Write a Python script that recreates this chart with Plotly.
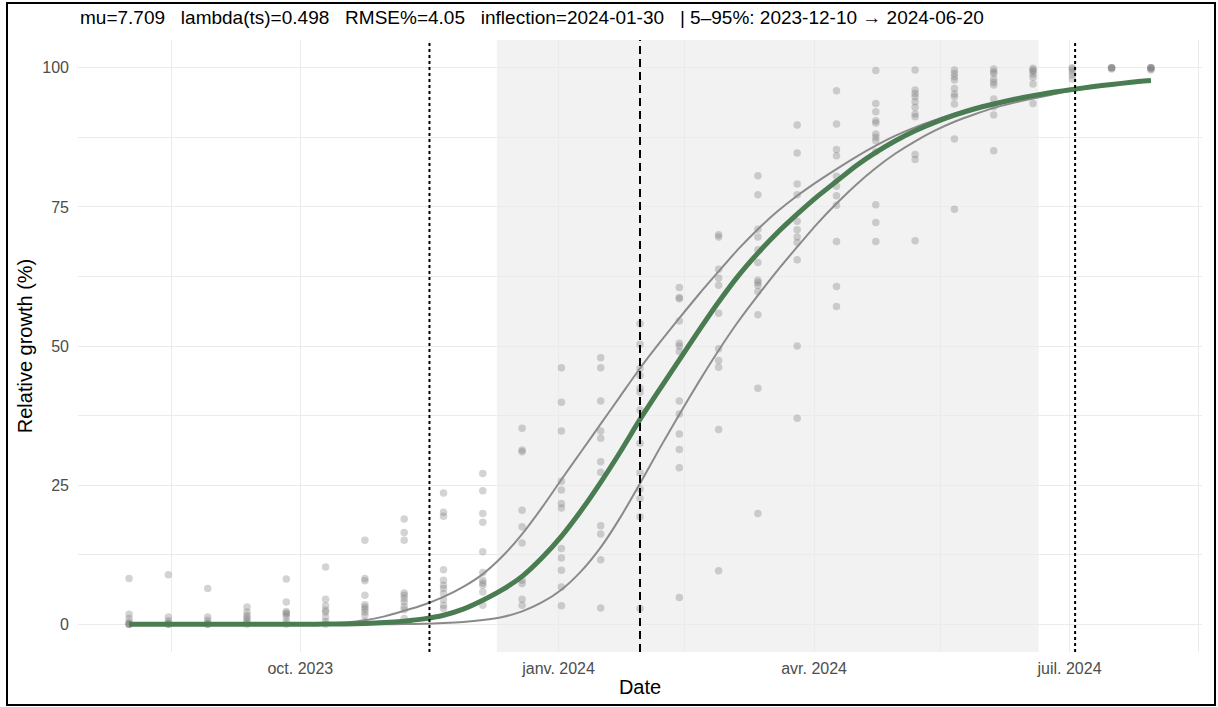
import plotly.graph_objects as go

# ---- data ----
sample_dates = ["2023-08-01", "2023-08-15", "2023-08-29", "2023-09-12", "2023-09-26",
                "2023-10-10", "2023-10-24", "2023-11-07", "2023-11-21", "2023-12-05",
                "2023-12-19", "2024-01-02", "2024-01-16", "2024-01-30", "2024-02-13",
                "2024-02-27", "2024-03-12", "2024-03-26", "2024-04-09", "2024-04-23",
                "2024-05-07", "2024-05-21", "2024-06-04", "2024-06-18", "2024-07-02",
                "2024-07-16", "2024-07-30"]

obs_values = [
    [8.2, 1.8, 1.0, 0.4, 0.0, 0.0, 0.0],
    [8.9, 1.3, 0.6, 0.2, 0.0, 0.0],
    [6.4, 1.3, 0.7, 0.2, 0.0, 0.0],
    [3.1, 2.2, 1.6, 1.2, 0.8, 0.4, 0.0],
    [8.1, 4.0, 2.3, 2.0, 1.8, 1.3, 0.5, 0.0],
    [10.3, 4.5, 3.3, 2.5, 2.2, 1.3, 0.5, 0.0],
    [15.1, 8.2, 7.8, 5.2, 3.5, 3.1, 2.7, 2.2, 1.6, 0.5],
    [18.9, 16.5, 15.1, 5.6, 5.2, 4.6, 4.0, 3.2, 2.6, 1.0],
    [23.6, 20.1, 19.4, 9.8, 7.9, 7.0, 6.4, 5.5, 4.4, 3.4, 2.8],
    [27.1, 24.0, 19.9, 18.3, 13.0, 9.3, 7.9, 7.4, 7.0, 5.8, 3.4],
    [35.2, 31.3, 31.0, 20.5, 17.5, 14.6, 7.9, 7.3, 4.5, 3.4],
    [46.1, 39.9, 34.7, 25.7, 24.1, 21.7, 20.9, 13.6, 11.9, 9.7, 6.7, 3.3],
    [47.9, 46.1, 40.1, 34.7, 33.4, 29.2, 27.3, 17.7, 16.2, 11.6, 2.9],
    [54.0, 50.3, 46.0, 44.7, 42.4, 41.7, 38.5, 32.5, 27.2, 24.3, 22.6, 19.3, 2.8],
    [60.5, 58.7, 58.5, 54.5, 50.5, 50.0, 49.0, 40.1, 37.8, 34.2, 31.4, 28.1, 4.8],
    [70.0, 69.6, 63.8, 62.2, 60.9, 55.9, 49.5, 47.4, 46.2, 35.0, 9.6],
    [80.6, 77.2, 71.0, 69.6, 67.3, 65.0, 61.8, 61.4, 60.9, 59.8, 55.6, 42.4, 19.9],
    [89.7, 84.7, 79.1, 77.2, 72.4, 70.9, 69.6, 68.6, 65.5, 50.0, 37.0],
    [95.9, 89.9, 85.3, 84.2, 80.5, 78.7, 77.0, 75.3, 68.8, 60.7, 57.1],
    [99.5, 93.6, 92.1, 90.5, 90.1, 88.1, 87.5, 86.9, 84.9, 75.4, 72.2, 68.8],
    [99.6, 96.0, 95.4, 94.8, 93.9, 92.9, 91.7, 91.2, 84.4, 83.5, 68.9],
    [99.6, 99.0, 98.4, 97.8, 96.3, 95.3, 94.8, 93.5, 87.2, 74.6],
    [99.8, 99.3, 99.0, 98.0, 97.4, 96.9, 94.4, 93.0, 91.5, 85.1],
    [99.9, 99.6, 99.4, 98.9, 98.3, 97.1, 93.6],
    [100.0, 99.8, 99.3, 98.7, 98.0],
    [100.0, 100.0, 100.0, 99.8],
    [100.0, 100.0, 100.0, 99.8, 99.6],
]

curve_dates = ["2023-08-01", "2023-08-08", "2023-08-15", "2023-08-22", "2023-08-29",
               "2023-09-05", "2023-09-12", "2023-09-19", "2023-09-26", "2023-10-03",
               "2023-10-10", "2023-10-17", "2023-10-24", "2023-10-31", "2023-11-07",
               "2023-11-14", "2023-11-21", "2023-11-28", "2023-12-05", "2023-12-12",
               "2023-12-19", "2023-12-26", "2024-01-02", "2024-01-09", "2024-01-16",
               "2024-01-23", "2024-01-30", "2024-02-06", "2024-02-13", "2024-02-20",
               "2024-02-27", "2024-03-05", "2024-03-12", "2024-03-19", "2024-03-26",
               "2024-04-02", "2024-04-09", "2024-04-16", "2024-04-23", "2024-04-30",
               "2024-05-07", "2024-05-14", "2024-05-21", "2024-05-28", "2024-06-04",
               "2024-06-11", "2024-06-18", "2024-06-25", "2024-07-02", "2024-07-09",
               "2024-07-16", "2024-07-23", "2024-07-30"]

fit_values = [0, 0, 0, 0, 0, 0, 0, 0, 0, 0,
              0.02, 0.05, 0.12, 0.28, 0.55, 0.95, 1.6, 2.7, 4.3, 6.2,
              8.6, 11.9, 15.8, 20.4, 25.5, 31.0, 36.8, 42.2, 47.5, 52.8,
              57.9, 62.6, 66.7, 70.4, 73.7, 76.8, 79.6, 82.4, 84.8, 86.9,
              88.7, 90.2, 91.5, 92.6, 93.5, 94.3, 95.0, 95.6, 96.1, 96.6,
              97.0, 97.4, 97.7]
upper_values = [0, 0, 0, 0, 0, 0, 0, 0, 0, 0.03,
                0.1, 0.3, 0.7, 1.4, 2.4, 3.5, 4.9, 6.7, 9.0, 12.2,
                16.2, 20.9, 26.0, 31.0, 36.0, 41.0, 46.0, 50.6, 55.0, 59.3,
                63.4, 67.4, 71.0, 74.2, 77.0, 79.5, 81.8, 84.0, 86.0, 87.8,
                89.3, 90.6, 91.8, 92.8, 93.7, 94.4, 95.1, 95.7, 96.2, 96.7,
                97.1, 97.5, 97.8]
lower_values = [0, 0, 0, 0, 0, 0, 0, 0, 0, 0,
                0, 0, 0, 0, 0.02, 0.08, 0.2, 0.4, 0.75, 1.3,
                2.3, 3.9, 6.2, 9.5, 13.8, 19.2, 25.3, 31.6, 37.7, 43.6,
                49.2, 54.4, 59.1, 63.6, 67.8, 71.9, 75.6, 79.0, 82.0, 84.6,
                86.8, 88.7, 90.3, 91.6, 92.8, 93.7, 94.5, 95.2, 95.9, 96.4,
                96.9, 97.3, 97.6]

window_start = "2023-12-10"
window_end = "2024-06-20"
inflection_date = "2024-01-30"
dotted_dates = ["2023-11-16", "2024-07-03"]

x_tick_vals = ["2023-10-01", "2024-01-01", "2024-04-01", "2024-07-01"]
x_tick_text = ["oct. 2023", "janv. 2024", "avr. 2024", "juil. 2024"]
x_minor_vals = ["2023-08-16", "2023-11-16", "2024-02-15", "2024-05-16", "2024-08-16"]
y_tick_vals = [0, 25, 50, 75, 100]
y_minor_vals = [12.5, 37.5, 62.5, 87.5]

title_text = ("mu=7.709\u00a0\u00a0\u00a0lambda(ts)=0.498\u00a0\u00a0\u00a0RMSE%=4.05"
              "\u00a0\u00a0\u00a0inflection=2024-01-30\u00a0\u00a0\u00a0| 5–95%: 2023-12-10 → 2024-06-20")

# ---- build ----
px_x, px_y = [], []
for d, vals in zip(sample_dates, obs_values):
    for v in vals:
        px_x.append(d)
        px_y.append(v)

fig = go.Figure()
fig.add_trace(go.Scatter(x=px_x, y=px_y, mode="markers",
                         marker=dict(size=7.5, color="rgba(120,120,120,0.33)", line=dict(width=0)),
                         showlegend=False, hoverinfo="skip"))
for vals in (upper_values, lower_values):
    fig.add_trace(go.Scatter(x=curve_dates, y=vals, mode="lines",
                             line=dict(color="#8a8a8a", width=2, shape="spline", smoothing=0.6),
                             showlegend=False, hoverinfo="skip"))
fig.add_trace(go.Scatter(x=curve_dates, y=fit_values, mode="lines",
                         line=dict(color="#4a7c52", width=5, shape="spline", smoothing=0.6),
                         showlegend=False, hoverinfo="skip"))

shapes = [
    dict(type="rect", xref="x", yref="paper", x0=window_start, x1=window_end, y0=0, y1=1,
         fillcolor="#f2f2f2", line=dict(width=0), layer="below"),
    dict(type="line", xref="x", yref="paper", x0=inflection_date, x1=inflection_date, y0=0, y1=1,
         line=dict(color="black", width=2, dash="8px,5px")),
]
for d in dotted_dates:
    shapes.append(dict(type="line", xref="x", yref="paper", x0=d, x1=d, y0=0, y1=1,
                       line=dict(color="black", width=2, dash="dot")))
# outer frame
shapes.append(dict(type="rect", xref="paper", yref="paper",
                   x0=(7 - 78) / 1124, x1=(1215 - 78) / 1124,
                   y0=(652 - 705) / 612, y1=(652 - 3) / 612,
                   line=dict(color="black", width=2), fillcolor="rgba(0,0,0,0)", layer="above"))

fig.update_layout(
    width=1218, height=707,
    margin=dict(l=78, r=16, t=40, b=55, autoexpand=False),
    paper_bgcolor="white", plot_bgcolor="white",
    font=dict(family="Liberation Sans, Arial, sans-serif"),
    shapes=shapes,
    annotations=[dict(text=title_text, xref="paper", yref="paper", x=0, y=(652 - 18) / 612,
                      xanchor="left", yanchor="middle", showarrow=False,
                      font=dict(size=19, color="black"))],
)
fig.update_xaxes(
    type="date", range=["2023-07-13 19:12", "2024-08-17 04:48"],
    tickmode="array", tickvals=x_tick_vals, ticktext=x_tick_text,
    tickfont=dict(size=16, color="#4d4d4d"), ticks="", ticklabelstandoff=5,
    showgrid=True, gridcolor="#ebebeb", gridwidth=1.4, zeroline=False, showline=False,
    minor=dict(tickmode="array", tickvals=x_minor_vals, showgrid=True, gridcolor="#ebebeb", gridwidth=0.8),
    title=dict(text="Date", font=dict(size=20, color="black"), standoff=3),
)
fig.update_yaxes(
    range=[-5, 105], tickmode="array", tickvals=y_tick_vals,
    tickfont=dict(size=16, color="#4d4d4d"), ticks="", ticklabelstandoff=8,
    showgrid=True, gridcolor="#ebebeb", gridwidth=1.4, zeroline=False, showline=False,
    minor=dict(tickmode="array", tickvals=y_minor_vals, showgrid=True, gridcolor="#ebebeb", gridwidth=0.8),
    title=dict(text="Relative growth (%)", font=dict(size=20, color="black"), standoff=4),
)

fig.write_html("out.html")
